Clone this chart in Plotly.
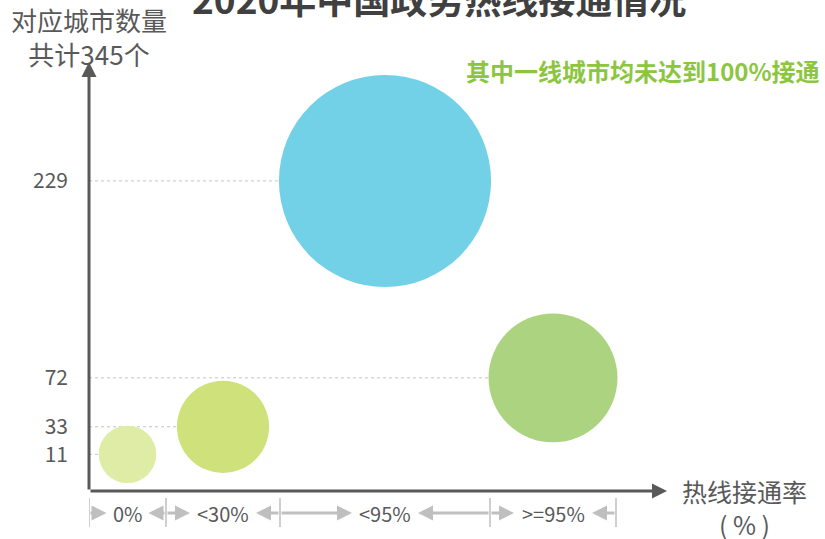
import plotly.graph_objects as go

# ---- data -------------------------------------------------------------
categories = ["0%", "<30%", "<95%", ">=95%"]
city_counts = [11, 33, 229, 72]
tick_labels = [str(v) for v in sorted(city_counts)]

# ---- layout constants ---------------------------------------------------
FIG_W, FIG_H = 825, 539
MARGIN = dict(l=89, r=158, t=62, b=48)
PLOT_W = FIG_W - MARGIN["l"] - MARGIN["r"]
PLOT_H = FIG_H - MARGIN["t"] - MARGIN["b"]
X_RANGE = [0, PLOT_W]
Y_RANGE = [-18.2, 323.8]
band_widths = [77, 114, 210, 126]          # variable-width category bands
bubble_colors = ["#DFECA6", "#CFE17A", "#72D0E7", "#ACD37F"]

FONT = "Noto Sans CJK SC, Microsoft YaHei, sans-serif"
AXIS_COLOR = "#595959"
TEXT_COLOR = "#595959"
BRACKET_COLOR = "#BFBFBF"
LABEL_SIZE = 20

# band edges / centres along the x axis
edges = [0]
for w in band_widths:
    edges.append(edges[-1] + w)
centers = [(a + b) / 2 for a, b in zip(edges[:-1], edges[1:])]


def below(px):
    """Plot-height fraction for a point px pixels under the x axis."""
    return -px / PLOT_H


def above(px):
    """Plot-height fraction for a point px pixels above the plot top."""
    return 1 + px / PLOT_H


fig = go.Figure()

# dotted guide lines from the y axis to each bubble
for cx, v in zip(centers, city_counts):
    fig.add_trace(go.Scatter(
        x=[X_RANGE[0], cx], y=[v, v], mode="lines",
        line=dict(color="#C4C4C4", width=1, dash="dot"),
        hoverinfo="skip", showlegend=False))

# bubbles, size grows with the number of cities
sizes = [20.5 * v ** 0.43 for v in city_counts]
fig.add_trace(go.Scatter(
    x=centers, y=city_counts, mode="markers",
    marker=dict(size=sizes, sizemode="diameter", color=bubble_colors,
                opacity=1, line=dict(width=0)),
    text=categories, hovertemplate="%{text}: %{y}<extra></extra>",
    showlegend=False))

annotations = []
shapes = []

# axis lines with arrow heads
axis_arrow = dict(text="", showarrow=True, arrowhead=2, arrowsize=1,
                  arrowwidth=3, arrowcolor=AXIS_COLOR, standoff=0,
                  xref="x domain", yref="y domain",
                  axref="x domain", ayref="y domain")
annotations.append(dict(axis_arrow, x=0, y=1, ax=0, ay=0))
annotations.append(dict(axis_arrow, x=1, y=0, ax=0, ay=0))

# band brackets under the x axis
label_y = below(22)
for i, (lab, cx) in enumerate(zip(categories, centers)):
    annotations.append(dict(
        x=cx, y=label_y, xref="x", yref="y domain", text=lab,
        showarrow=False, xanchor="center", yanchor="middle",
        font=dict(family=FONT, size=LABEL_SIZE, color=TEXT_COLOR)))
    half = len(lab) * 0.3 * LABEL_SIZE + 9
    bracket = dict(text="", showarrow=True, arrowhead=2, arrowsize=1,
                   arrowwidth=3, arrowcolor=BRACKET_COLOR, standoff=0,
                   xref="x", yref="y domain", axref="x", ayref="y domain",
                   y=label_y, ay=label_y)
    annotations.append(dict(bracket, x=cx - half, ax=edges[i]))
    annotations.append(dict(bracket, x=cx + half, ax=edges[i + 1]))
for e in edges:
    shapes.append(dict(type="line", xref="x", yref="y domain",
                       x0=e, x1=e, y0=below(7), y1=below(36),
                       line=dict(color=BRACKET_COLOR, width=1.5)))

# titles
annotations.append(dict(
    text="2020年中国政务热线接通情况", x=(439 - MARGIN["l"]) / PLOT_W,
    y=above(64), xref="x domain", yref="y domain", showarrow=False,
    xanchor="center", yanchor="middle",
    font=dict(family=FONT, size=37, color="#404040", weight="bold")))
annotations.append(dict(
    text=f"对应城市数量<br>共计{sum(city_counts)}个", x=0, y=above(26),
    xref="x domain", yref="y domain", showarrow=False,
    xanchor="center", yanchor="middle",
    font=dict(family=FONT, size=26, color=TEXT_COLOR)))
annotations.append(dict(
    text="热线接通率<br>( % )", x=(744 - MARGIN["l"]) / PLOT_W, y=below(16),
    xref="x domain", yref="y domain", showarrow=False,
    xanchor="center", yanchor="middle",
    font=dict(family=FONT, size=25, color=TEXT_COLOR)))
annotations.append(dict(
    text="其中一线城市均未达到100%接通", x=(822 - MARGIN["l"]) / PLOT_W,
    y=1 - 9 / PLOT_H, xref="x domain", yref="y domain", showarrow=False,
    xanchor="right", yanchor="middle",
    font=dict(family=FONT, size=24, color="#8CC63F", weight="bold")))

fig.update_layout(
    width=FIG_W, height=FIG_H, margin=MARGIN,
    paper_bgcolor="white", plot_bgcolor="white",
    annotations=annotations, shapes=shapes,
    xaxis=dict(range=X_RANGE, visible=False, fixedrange=True),
    yaxis=dict(range=Y_RANGE, tickvals=sorted(city_counts),
               ticktext=tick_labels, showgrid=False, zeroline=False,
               showline=False, ticks="", ticklabelstandoff=20,
               tickfont=dict(family=FONT, size=21, color=TEXT_COLOR),
               fixedrange=True),
)

fig.write_html("out.html")
